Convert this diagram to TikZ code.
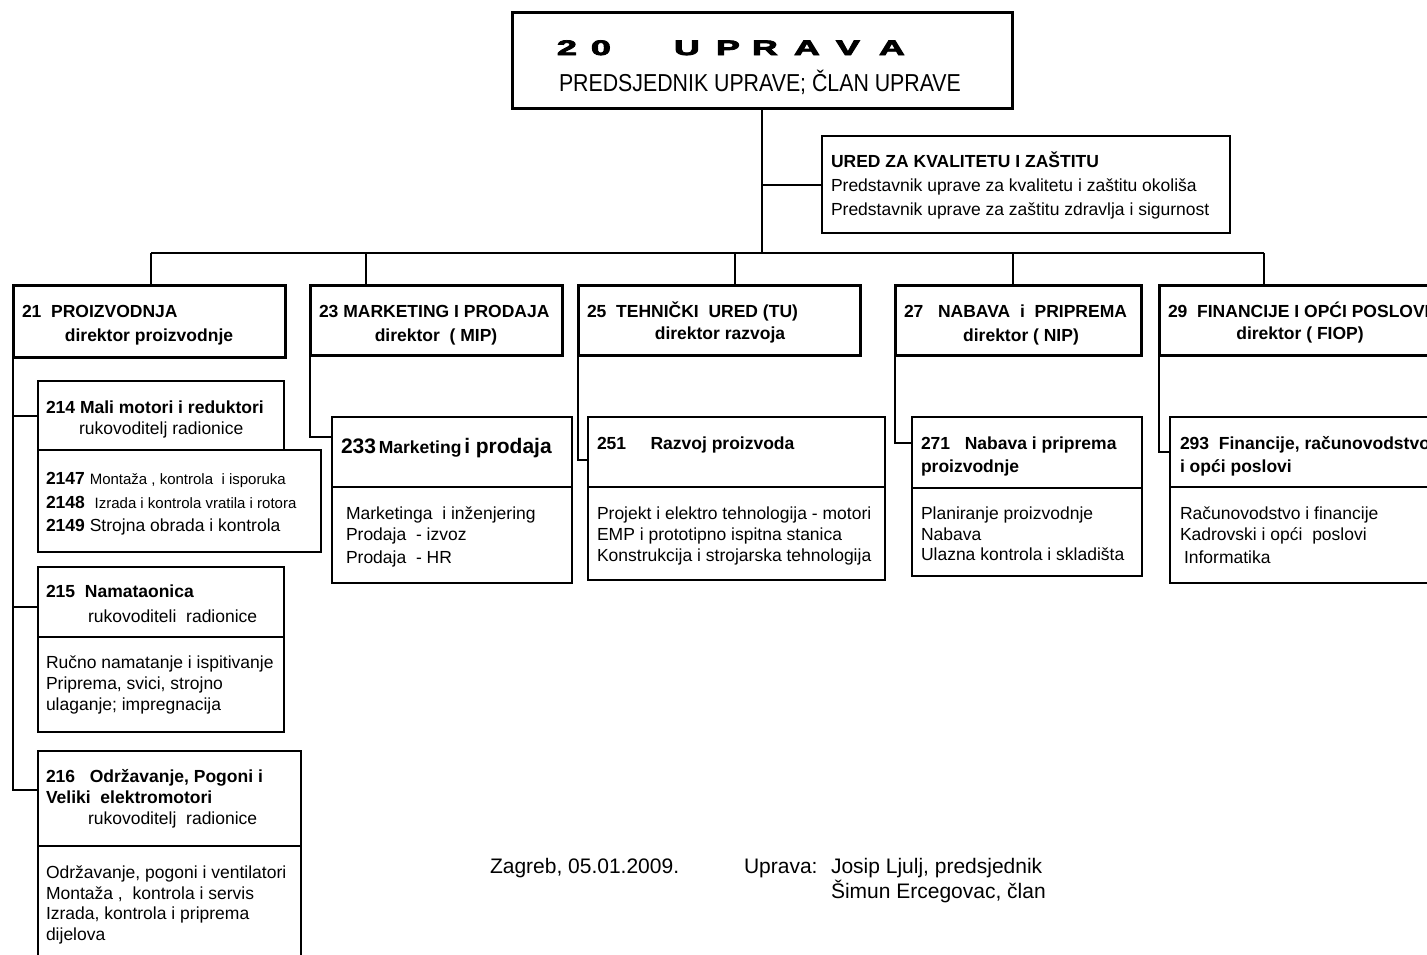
\documentclass[tikz,border=0pt]{standalone}
\usepackage{fontspec}
\setmainfont{Liberation Sans}
\newfontfamily\titlefam[FakeBold=3.5]{Liberation Sans Bold}
\usepackage{graphicx}
\newcommand\nf{\fontsize{17.5}{21}\selectfont}
\newcommand\smallf{\fontsize{15}{18}\selectfont}
\newcommand\bigf{\fontsize{21}{25}\selectfont}
\newcommand\titlefont{\titlefam\fontsize{21}{24}\selectfont}
\newcommand\tl[2]{\makebox[#2pt][l]{\scalebox{1.7}[1]{#1}}}
\begin{document}
\begin{tikzpicture}[x=1pt,y=-1pt,
  every node/.style={inner sep=0pt, outer sep=0pt},
  frame/.style={draw, line width=2pt, anchor=north west, fill=white},
  thickframe/.style={frame, line width=3pt},
  link/.style={line width=2pt},
  txt/.style={anchor=base west, font=\nf},
  btxt/.style={anchor=base west, font=\nf\bfseries},
  ctxt/.style={anchor=base, font=\nf\bfseries}]
\useasboundingbox (0,0) rectangle (1427,954);
\clip (0,0) rectangle (1427,954);
\fill[white] (0,0) rectangle (1427,954);

% ---------- boxes ----------
\node[thickframe, minimum width=500, minimum height=96] (uprava) at (512,12) {};
\node[frame, line width=2.5pt, minimum width=408, minimum height=97] (ured) at (822,136) {};
\node[thickframe, minimum width=272, minimum height=72] (d21) at (13,285) {};
\node[thickframe, minimum width=252, minimum height=70] (d23) at (310,285) {};
\node[thickframe, minimum width=282, minimum height=70] (d25) at (578,285) {};
\node[thickframe, minimum width=246, minimum height=70] (d27) at (895,285) {};
\node[thickframe, minimum width=282, minimum height=70] (d29) at (1159,285) {};

\node[frame, minimum width=246, minimum height=69] (s214h) at (38,381) {};
\node[frame, minimum width=283, minimum height=102] (s214b) at (38,450) {};
\node[frame, minimum width=246, minimum height=70] (s215h) at (38,567) {};
\node[frame, minimum width=246, minimum height=95] (s215b) at (38,637) {};
\node[frame, minimum width=263, minimum height=95] (s216h) at (38,751) {};
\node[frame, minimum width=263, minimum height=130] (s216b) at (38,846) {};

\node[frame, minimum width=240, minimum height=70] (m233h) at (332,417) {};
\node[frame, minimum width=240, minimum height=96] (m233b) at (332,487) {};
\node[frame, minimum width=297, minimum height=70] (t251h) at (588,417) {};
\node[frame, minimum width=297, minimum height=93] (t251b) at (588,487) {};
\node[frame, minimum width=230, minimum height=71] (n271h) at (912,417) {};
\node[frame, minimum width=230, minimum height=88] (n271b) at (912,488) {};
\node[frame, minimum width=270, minimum height=70] (f293h) at (1170,417) {};
\node[frame, minimum width=270, minimum height=96] (f293b) at (1170,487) {};

% ---------- connectors ----------
\coordinate (busL) at (151,253);
\coordinate (busR) at (1264,253);
\coordinate (b23) at (366,253);
\coordinate (b25) at (735,253);
\coordinate (b27) at (1013,253);
\draw[link] (uprava.south) -- (uprava.south |- busL);
\draw[link] (uprava.south |- ured.west) -- (ured.west);
\draw[link] (busL) -- (busR);
\draw[link] (busL) -- (busL |- d21.north);
\draw[link] (b23) -- (b23 |- d23.north);
\draw[link] (b25) -- (b25 |- d25.north);
\draw[link] (b27) -- (b27 |- d27.north);
\draw[link] (busR) -- (busR |- d29.north);

\coordinate (j215) at ([yshift=-40pt]s215h.north west);
\coordinate (j216) at ([yshift=-39pt]s216h.north west);
\draw[link] (d21.south west) |- (j216);
\draw[link] (d21.south west |- s214h.west) -- (s214h.west);
\draw[link] (d21.south west |- j215) -- (j215);

\draw[link] (d23.south west) |- ([yshift=-20pt]m233h.north west);
\draw[link] (d25.south west) |- ([yshift=-43pt]t251h.north west);
\draw[link] (d27.south west) |- ([yshift=-26pt]n271h.north west);
\draw[link] (d29.south west) |- ([yshift=-35pt]f293h.north west);

% ---------- texts ----------
\node[anchor=base west] (t20) at (557,55) {\titlefont\tl{2}{34}\tl{0}{83}\tl{U}{42}\tl{P}{36}\tl{R}{42}\tl{A}{42}\tl{V}{43}\tl{A}{30}};
\node[anchor=base west] (t20b) at (559,91) {\scalebox{0.87}[1]{\fontsize{24.5}{28}\selectfont PREDSJEDNIK UPRAVE; ČLAN UPRAVE}};

\node[btxt] (tu1) at (831,167) {URED ZA KVALITETU I ZAŠTITU};
\node[txt] (tu2) at (831,191) {Predstavnik uprave za kvalitetu i zaštitu okoliša};
\node[txt] (tu3) at (831,215) {Predstavnik uprave za zaštitu zdravlja i sigurnost};

\node[btxt] (t21a) at (22,317) {21~ PROIZVODNJA};
\node[ctxt] (t21b) at (149,341) {direktor proizvodnje};
\node[btxt] (t23a) at (319,317) {23 MARKETING I PRODAJA};
\node[ctxt] (t23b) at (436,341) {direktor ~( MIP)};
\node[btxt] (t25a) at (587,317) {25~ TEHNIČKI~ URED (TU)};
\node[ctxt] (t25b) at (720,339) {direktor razvoja};
\node[btxt] (t27a) at (904,317) {27~~ NABAVA~ i~ PRIPREMA};
\node[ctxt] (t27b) at (1021,341) {direktor ( NIP)};
\node[btxt] (t29a) at (1168,317) {29~ FINANCIJE I OPĆI POSLOVI};
\node[ctxt] (t29b) at (1300,339) {direktor ( FIOP)};

\node[btxt] (t214a) at (46,413) {214 Mali motori i reduktori};
\node[txt] (t214b) at (79,434) {rukovoditelj radionice};
\node[txt] (t214c) at (46,484) {\textbf{2147} {\smallf Montaža , kontrola~ i isporuka}};
\node[txt] (t214d) at (46,508) {\textbf{2148}~ {\smallf Izrada i kontrola vratila i rotora}};
\node[txt] (t214e) at (46,531) {\textbf{2149} Strojna obrada i kontrola};

\node[btxt] (t215a) at (46,597) {215~ Namataonica};
\node[txt] (t215b) at (88,622) {rukovoditeli~ radionice};
\node[txt] (t215c) at (46,668) {Ručno namatanje i ispitivanje};
\node[txt] (t215d) at (46,689) {Priprema, svici, strojno};
\node[txt] (t215e) at (46,710) {ulaganje; impregnacija};

\node[btxt] (t216a) at (46,782) {216~~ Održavanje, Pogoni i};
\node[btxt] (t216b) at (46,803) {Veliki~ elektromotori};
\node[txt] (t216c) at (88,824) {rukovoditelj~ radionice};
\node[txt] (t216d) at (46,878) {Održavanje, pogoni i ventilatori};
\node[txt] (t216e) at (46,899) {Montaža ,~ kontrola i servis};
\node[txt] (t216f) at (46,919) {Izrada, kontrola i priprema};
\node[txt] (t216g) at (46,940) {dijelova};

\node[anchor=base west, font=\bfseries] (t233a) at (341,453) {{\bigf 233} {\nf Marketing} {\bigf i prodaja}};
\node[txt] (t233b) at (346,519) {Marketinga~ i inženjering};
\node[txt] (t233c) at (346,540) {Prodaja~ - izvoz};
\node[txt] (t233d) at (346,563) {Prodaja~ - HR};

\node[btxt] (t251a) at (597,449) {251~~~~ Razvoj proizvoda};
\node[txt] (t251b) at (597,519) {Projekt i elektro tehnologija - motori};
\node[txt] (t251c) at (597,540) {EMP i prototipno ispitna stanica};
\node[txt] (t251d) at (597,561) {Konstrukcija i strojarska tehnologija};

\node[btxt] (t271a) at (921,449) {271~~ Nabava i priprema};
\node[btxt] (t271b) at (921,472) {proizvodnje};
\node[txt] (t271c) at (921,519) {Planiranje proizvodnje};
\node[txt] (t271d) at (921,540) {Nabava};
\node[txt] (t271e) at (921,560) {Ulazna kontrola i skladišta};

\node[btxt] (t293a) at (1180,449) {293~ Financije, računovodstvo};
\node[btxt] (t293b) at (1180,472) {i opći poslovi};
\node[txt] (t293c) at (1180,519) {Računovodstvo i financije};
\node[txt] (t293d) at (1180,540) {Kadrovski i opći~ poslovi};
\node[txt] (t293e) at (1184,563) {Informatika};

\node[anchor=base west, font=\fontsize{21}{25}\selectfont] (tz) at (490,873) {Zagreb, 05.01.2009.};
\node[anchor=base west, font=\fontsize{21}{25}\selectfont] (tup) at (744,873) {Uprava:};
\node[anchor=base west, font=\fontsize{21}{25}\selectfont] (tj) at (831,873) {Josip Ljulj, predsjednik};
\node[anchor=base west, font=\fontsize{21}{25}\selectfont] (ts) at (831,898) {Šimun Ercegovac, član};
\end{tikzpicture}
\end{document}
